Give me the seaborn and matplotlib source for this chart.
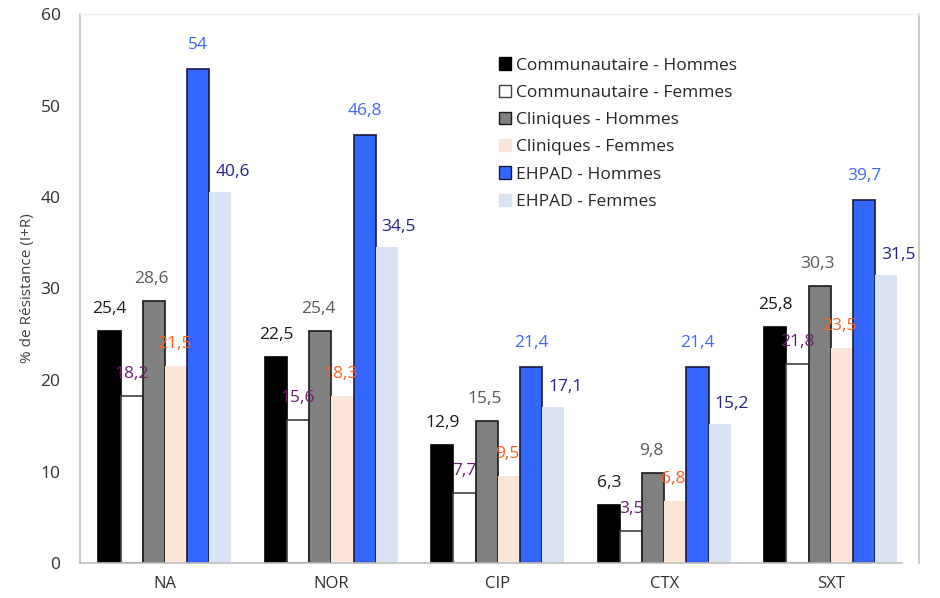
import matplotlib
matplotlib.use("Agg")
import matplotlib.pyplot as plt
from matplotlib.patches import Patch
import seaborn as sns
import pandas as pd

# Antibiotics on the x axis
antibiotiques = ["NA", "NOR", "CIP", "CTX", "SXT"]

# Series: setting and sex
groupes = [
    "Communautaire - Hommes",
    "Communautaire - Femmes",
    "Cliniques - Hommes",
    "Cliniques - Femmes",
    "EHPAD - Hommes",
    "EHPAD - Femmes",
]

# Resistance rates (%), one list per series, in antibiotic order
communautaire_hommes = [25.4, 22.5, 12.9, 6.3, 25.8]
communautaire_femmes = [18.2, 15.6, 7.7, 3.5, 21.8]
cliniques_hommes = [28.6, 25.4, 15.5, 9.8, 30.3]
cliniques_femmes = [21.5, 18.3, 9.5, 6.8, 23.5]
ehpad_hommes = [54, 46.8, 21.4, 21.4, 39.7]
ehpad_femmes = [40.6, 34.5, 17.1, 15.2, 31.5]

series = [communautaire_hommes, communautaire_femmes, cliniques_hommes,
          cliniques_femmes, ehpad_hommes, ehpad_femmes]

fill_colors = ["#000000", "#FFFFFF", "#808080", "#FBE5D6", "#3366FF", "#DAE3F3"]
edge_colors = ["#000000", "#404040", "#1a1a1a", "none", "#1a1a40", "none"]
label_colors = ["#1a1a1a", "#6B1F6B", "#595959", "#FF5F1F", "#4466F5", "#22228A"]
# label offsets (pixels) relative to each bar's top centre
label_dx = [0, 0, -2, -2, 0, 12]
label_dy = [22, 22, 22, 22, 24, 20]

rows = []
for g, vals in zip(groupes, series):
    for a, v in zip(antibiotiques, vals):
        rows.append({"antibiotique": a, "groupe": g, "valeur": v})
df = pd.DataFrame(rows)

sns.set_theme(style="white")
plt.rcParams["font.family"] = ["Open Sans", "DejaVu Sans"]

fig = plt.figure(figsize=(9.4, 5.98), dpi=100)
ax = fig.add_axes([80 / 940, 1 - 563 / 598, 839 / 940, 549 / 598])

sns.barplot(data=df, x="antibiotique", y="valeur", hue="groupe",
            hue_order=groupes, order=antibiotiques,
            palette=fill_colors, saturation=1, width=0.8, gap=0,
            legend=False, ax=ax, errorbar=None)

for k, cont in enumerate(ax.containers):
    for bar, v in zip(cont.patches, series[k]):
        if edge_colors[k] == "none":
            bar.set_edgecolor(fill_colors[k])
            bar.set_linewidth(0)
        else:
            bar.set_edgecolor(edge_colors[k])
            bar.set_linewidth(1.2)
        x = bar.get_x() + bar.get_width() / 2
        txt = f"{v:g}".replace(".", ",")
        ax.annotate(txt, xy=(x, v), xytext=(label_dx[k], label_dy[k]),
                    textcoords="offset pixels", ha="center", va="center",
                    fontsize=12.5, color=label_colors[k])

ax.set_ylim(0, 60)
ax.set_xlim(-0.51, 4.53)
ax.set_yticks(range(0, 61, 10))
ax.tick_params(axis="y", length=0, pad=14, labelsize=12.5, labelcolor="#303030")
ax.tick_params(axis="x", length=0, pad=9, labelsize=12, labelcolor="#303030")
ax.set_xlabel("")
ax.set_ylabel("% de Résistance (I+R)", fontsize=11, color="#404040", labelpad=4)

for side in ["left", "right", "bottom"]:
    ax.spines[side].set_color("#BFBFBF")
    ax.spines[side].set_linewidth(1.2)
ax.spines["top"].set_color("#F0F0F0")
ax.spines["top"].set_linewidth(1)
ax.spines["bottom"].set_bounds(-0.51, 4.43)

handles = []
for k in range(6):
    ec = edge_colors[k] if edge_colors[k] != "none" else fill_colors[k]
    handles.append(Patch(facecolor=fill_colors[k], edgecolor=ec, linewidth=1))
leg = ax.legend(handles, groupes, loc="upper left", bbox_to_anchor=(0.499, 0.921),
                frameon=False, fontsize=12.5, handlelength=0.7, handleheight=0.7,
                handletextpad=0.3, labelspacing=0.64, borderaxespad=0,
                borderpad=0)
for t in leg.get_texts():
    t.set_color("#262626")

fig.savefig("out.png", dpi=100)
